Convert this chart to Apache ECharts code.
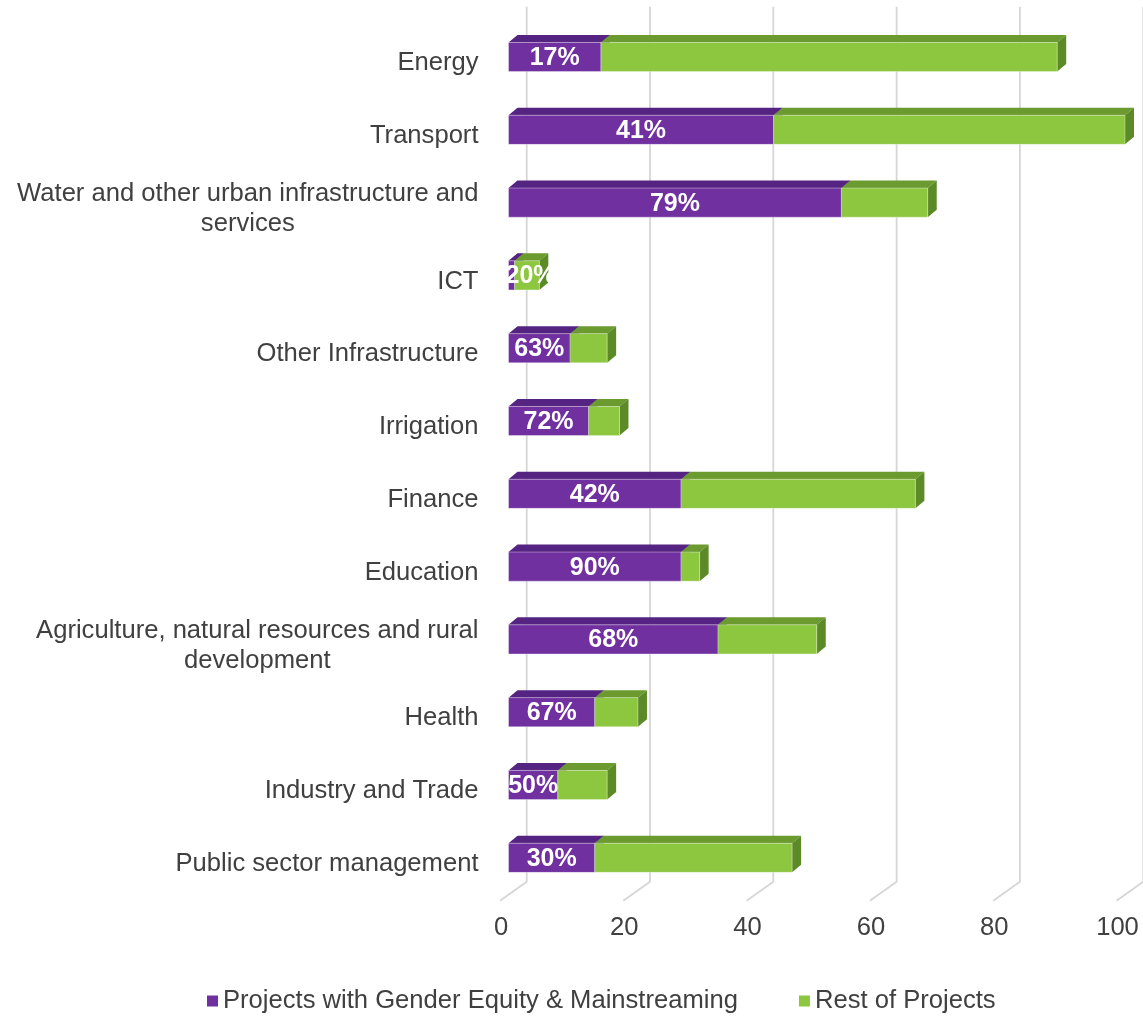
<!DOCTYPE html>
<html>
<head>
<meta charset="utf-8">
<script src="https://cdn.jsdelivr.net/npm/echarts@6/dist/echarts.min.js"></script>
<style>
html,body{margin:0;padding:0;background:#fff;}
#chart{width:1143px;height:1016px;}
</style>
</head>
<body>
<div id="chart"></div>
<script>
// ---- data ----
const categories = [
  'Energy',
  'Transport',
  'Water and other urban infrastructure and\nservices',
  'ICT',
  'Other Infrastructure',
  'Irrigation',
  'Finance',
  'Education',
  'Agriculture, natural resources and rural\ndevelopment',
  'Health',
  'Industry and Trade',
  'Public sector management'
];
const genderProjects = [15, 43, 54, 1, 10, 13, 28, 28, 34, 14, 8, 14];
const restProjects   = [74, 57, 14, 4, 6, 5, 38, 3, 16, 7, 8, 32];
const pctLabels = ['17%', '41%', '79%', '20%', '63%', '72%', '42%', '90%', '68%', '67%', '50%', '30%'];
const xTicks = [0, 20, 40, 60, 80, 100];
const seriesNames = ['Projects with Gender Equity & Mainstreaming', 'Rest of Projects'];

// ---- styling ----
const FONT = '"Liberation Sans", Arial, sans-serif';
const TEXT = '#404040';
const FS = 25.6;
const DX = 9, DY = 7.5;
const PURPLE = {front: '#7030A0', top: '#552381', side: '#4a1d70'};
const GREEN  = {front: '#8DC63F', top: '#6B9A2F', side: '#5B8A27'};

const chart = echarts.init(document.getElementById('chart'), null, {renderer: 'canvas'});

function barGeom(api, v0, v1) {
  const cat = api.value(0);
  const p0 = api.coord([v0, cat]);
  const p1 = api.coord([v1, cat]);
  const band = api.size([0, 1])[1];
  const h = band * 0.4;
  const cy = p0[1] - band * 0.085;
  return {x0: p0[0], x1: p1[0], y0: cy - h / 2, y1: cy + h / 2, cy: cy};
}

function makeBarRender(col) {
  return function (params, api) {
    const g = barGeom(api, api.value(1), api.value(2));
    return {
      type: 'group',
      children: [
        {type: 'polygon', shape: {points: [[g.x0, g.y0], [g.x0 + DX, g.y0 - DY], [g.x1 + DX, g.y0 - DY], [g.x1, g.y0]]},
         style: {fill: col.top}},
        {type: 'polygon', shape: {points: [[g.x1, g.y0], [g.x1 + DX, g.y0 - DY], [g.x1 + DX, g.y1 - DY], [g.x1, g.y1]]},
         style: {fill: col.side}},
        {type: 'rect', shape: {x: g.x0, y: g.y0, width: g.x1 - g.x0, height: g.y1 - g.y0},
         style: {fill: col.front, stroke: 'rgba(255,255,255,0.35)', lineWidth: 1}}
      ]
    };
  };
}

const purpleData = categories.map((c, i) => [i, 0, genderProjects[i]]);
const greenData = categories.map((c, i) => [i, genderProjects[i], genderProjects[i] + restProjects[i]]);
const labelData = categories.map((c, i) => [i, genderProjects[i]]);
const gridData = xTicks.map(v => [v, 0]);

const option = {
  animation: false,
  backgroundColor: '#ffffff',
  grid: {left: 508.5, right: 18, top: 26.8, bottom: 115.6, containLabel: false},
  legend: {
    data: seriesNames,
    left: 202,
    top: 983,
    icon: 'rect',
    itemWidth: 11,
    itemHeight: 11,
    itemGap: 61,
    textStyle: {fontSize: FS, color: TEXT, fontFamily: FONT}
  },
  xAxis: {
    type: 'value',
    min: 0,
    max: 100,
    interval: 20,
    axisLine: {show: false},
    axisTick: {show: false},
    splitLine: {show: false},
    axisLabel: {fontSize: FS, color: TEXT, fontFamily: FONT, margin: 15, padding: [0, 15, 0, 0]}
  },
  yAxis: {
    type: 'category',
    inverse: true,
    data: categories,
    axisLine: {show: false},
    axisTick: {show: false},
    splitLine: {show: false},
    axisLabel: {
      margin: 30,
      align: 'right',
      fontSize: FS,
      color: TEXT,
      fontFamily: FONT,
      lineHeight: 30,
      formatter: function (val) {
        return val.split('\n').map(l => '{c|' + l + '}').join('\n');
      },
      rich: {c: {align: 'center', fontSize: FS, color: TEXT, fontFamily: FONT, lineHeight: 30}}
    }
  },
  series: [
    {
      name: 'grid',
      type: 'custom',
      silent: true,
      z: 1,
      data: gridData,
      encode: {x: 0, y: 1},
      renderItem: function (params, api) {
        const p = api.coord([api.value(0), 0]);
        const cs = params.coordSys;
        const top = cs.y, bottom = cs.y + cs.height;
        return {
          type: 'polyline',
          shape: {points: [[p[0] + 18.2, top - 20], [p[0] + 18.2, bottom - 18.7], [p[0] - 8.5, bottom + 0.3]]},
          style: {stroke: '#d6d6d6', lineWidth: 1.8, fill: null}
        };
      }
    },
    {
      name: seriesNames[0],
      type: 'custom',
      z: 2,
      itemStyle: {color: PURPLE.front},
      data: purpleData,
      encode: {x: [1, 2], y: 0},
      renderItem: makeBarRender(PURPLE)
    },
    {
      name: seriesNames[1],
      type: 'custom',
      z: 3,
      itemStyle: {color: GREEN.front},
      data: greenData,
      encode: {x: [1, 2], y: 0},
      renderItem: makeBarRender(GREEN)
    },
    {
      name: 'labels',
      type: 'custom',
      silent: true,
      z: 5,
      data: labelData,
      encode: {x: 1, y: 0},
      renderItem: function (params, api) {
        const i = api.value(0);
        const g = barGeom(api, 0, api.value(1));
        const cx = Math.max((g.x0 + g.x1) / 2, g.x0 + 22);
        return {
          type: 'text',
          x: cx,
          y: g.cy + 1,
          style: {
            text: pctLabels[i],
            fill: '#ffffff',
            fontSize: 25,
            fontWeight: 'bold',
            fontFamily: FONT,
            align: 'center',
            verticalAlign: 'middle'
          }
        };
      }
    }
  ]
};
chart.setOption(option);
</script>
</body>
</html>
